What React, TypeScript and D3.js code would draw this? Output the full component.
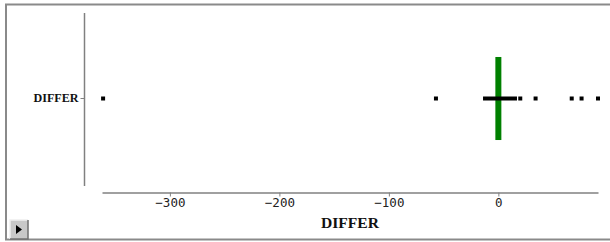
import React, { useRef, useEffect } from 'react';
import * as d3 from 'd3';

// variable shown on both axes
const categories = ['DIFFER'];
// quantile box (thick black bar) and median (green bar)
const boxLow = [-14];
const boxHigh = [17];
const medians = [0];
// points outside the box
const outliers = [-361, -57, 20, 34, 67, 76, 91];
const tickValues = [-300, -200, -100, 0];

const W = 610;
const H = 242;

const App = () => {
  const svgRef = useRef<SVGSVGElement>(null);

  useEffect(() => {
    const svg = d3.select(svgRef.current);
    svg.selectAll('*').remove();

    svg.append('rect').attr('width', W).attr('height', H).attr('fill', '#fff');

    // frame
    svg.append('rect')
      .attr('x', 6).attr('y', 4.5)
      .attr('width', 620).attr('height', 235)
      .attr('fill', 'none')
      .attr('stroke', '#8a8a8a')
      .attr('stroke-width', 2);

    const x = d3.scaleLinear().domain([-362, 91]).range([102, 598]);
    const y = d3.scaleBand().domain(categories).range([12, 185]);

    // x axis
    const gx = svg.append('g')
      .attr('transform', 'translate(0,192.5)')
      .call(d3.axisBottom(x).tickValues(tickValues).tickSize(4).tickPadding(2).tickSizeOuter(0));
    gx.select('.domain').attr('stroke', '#808080').attr('stroke-width', 1.5);
    gx.selectAll('.tick line').attr('stroke', '#808080');
    gx.selectAll('.tick text')
      .attr('fill', '#222')
      .attr('font-family', 'DejaVu Sans Mono')
      .attr('font-size', 12.5);

    // y axis
    const gy = svg.append('g')
      .attr('transform', 'translate(84.5,0)')
      .call(d3.axisLeft(y).tickSize(4).tickPadding(2).tickSizeOuter(0));
    gy.select('.domain').attr('d', 'M0,13V186').attr('stroke', '#808080').attr('stroke-width', 1.5);
    gy.selectAll('.tick line').attr('stroke', '#808080');
    gy.selectAll('.tick text')
      .attr('fill', '#111')
      .attr('font-family', 'Liberation Serif')
      .attr('font-weight', 'bold')
      .attr('font-size', 11.5)
      .attr('textLength', 45)
      .attr('lengthAdjust', 'spacingAndGlyphs');

    // axis title
    svg.append('text')
      .attr('x', 350).attr('y', 228)
      .attr('text-anchor', 'middle')
      .attr('font-family', 'Liberation Serif')
      .attr('font-weight', 'bold')
      .attr('font-size', 15)
      .attr('fill', '#111')
      .attr('textLength', 58)
      .attr('lengthAdjust', 'spacingAndGlyphs')
      .text('DIFFER');

    const cy = y(categories[0])! + y.bandwidth() / 2;

    // median bar
    svg.append('g').selectAll('rect')
      .data(medians)
      .join('rect')
      .attr('x', d => x(d) - 3)
      .attr('y', cy - y.bandwidth() * 0.24)
      .attr('width', 6)
      .attr('height', y.bandwidth() * 0.48)
      .attr('fill', '#008000');

    // box
    svg.append('g').selectAll('rect')
      .data(boxLow.map((lo, i) => [lo, boxHigh[i]]))
      .join('rect')
      .attr('x', d => x(d[0]))
      .attr('y', cy - 2)
      .attr('width', d => x(d[1]) - x(d[0]))
      .attr('height', 4)
      .attr('fill', '#000');

    // outliers
    svg.append('g').selectAll('rect')
      .data(outliers)
      .join('rect')
      .attr('x', d => x(d) - 2)
      .attr('y', cy - 2)
      .attr('width', 4)
      .attr('height', 4)
      .attr('fill', '#000');

    // little play button, bottom left
    const btn = svg.append('g').attr('transform', 'translate(10,220)');
    btn.append('rect').attr('width', 18).attr('height', 19).attr('fill', '#c8c8c8');
    btn.append('path').attr('d', 'M0,19V0H18').attr('fill', 'none').attr('stroke', '#eee').attr('stroke-width', 1.5);
    btn.append('path').attr('d', 'M18,0V19H0').attr('fill', 'none').attr('stroke', '#707070').attr('stroke-width', 1.5);
    btn.append('path').attr('d', 'M6,5L12,9.5L6,14Z').attr('fill', '#000');
  }, []);

  return (
    <svg
      ref={svgRef}
      width={W}
      height={H}
      style={{ position: 'absolute', left: 0, top: 0 }}
    />
  );
};

export default App;
